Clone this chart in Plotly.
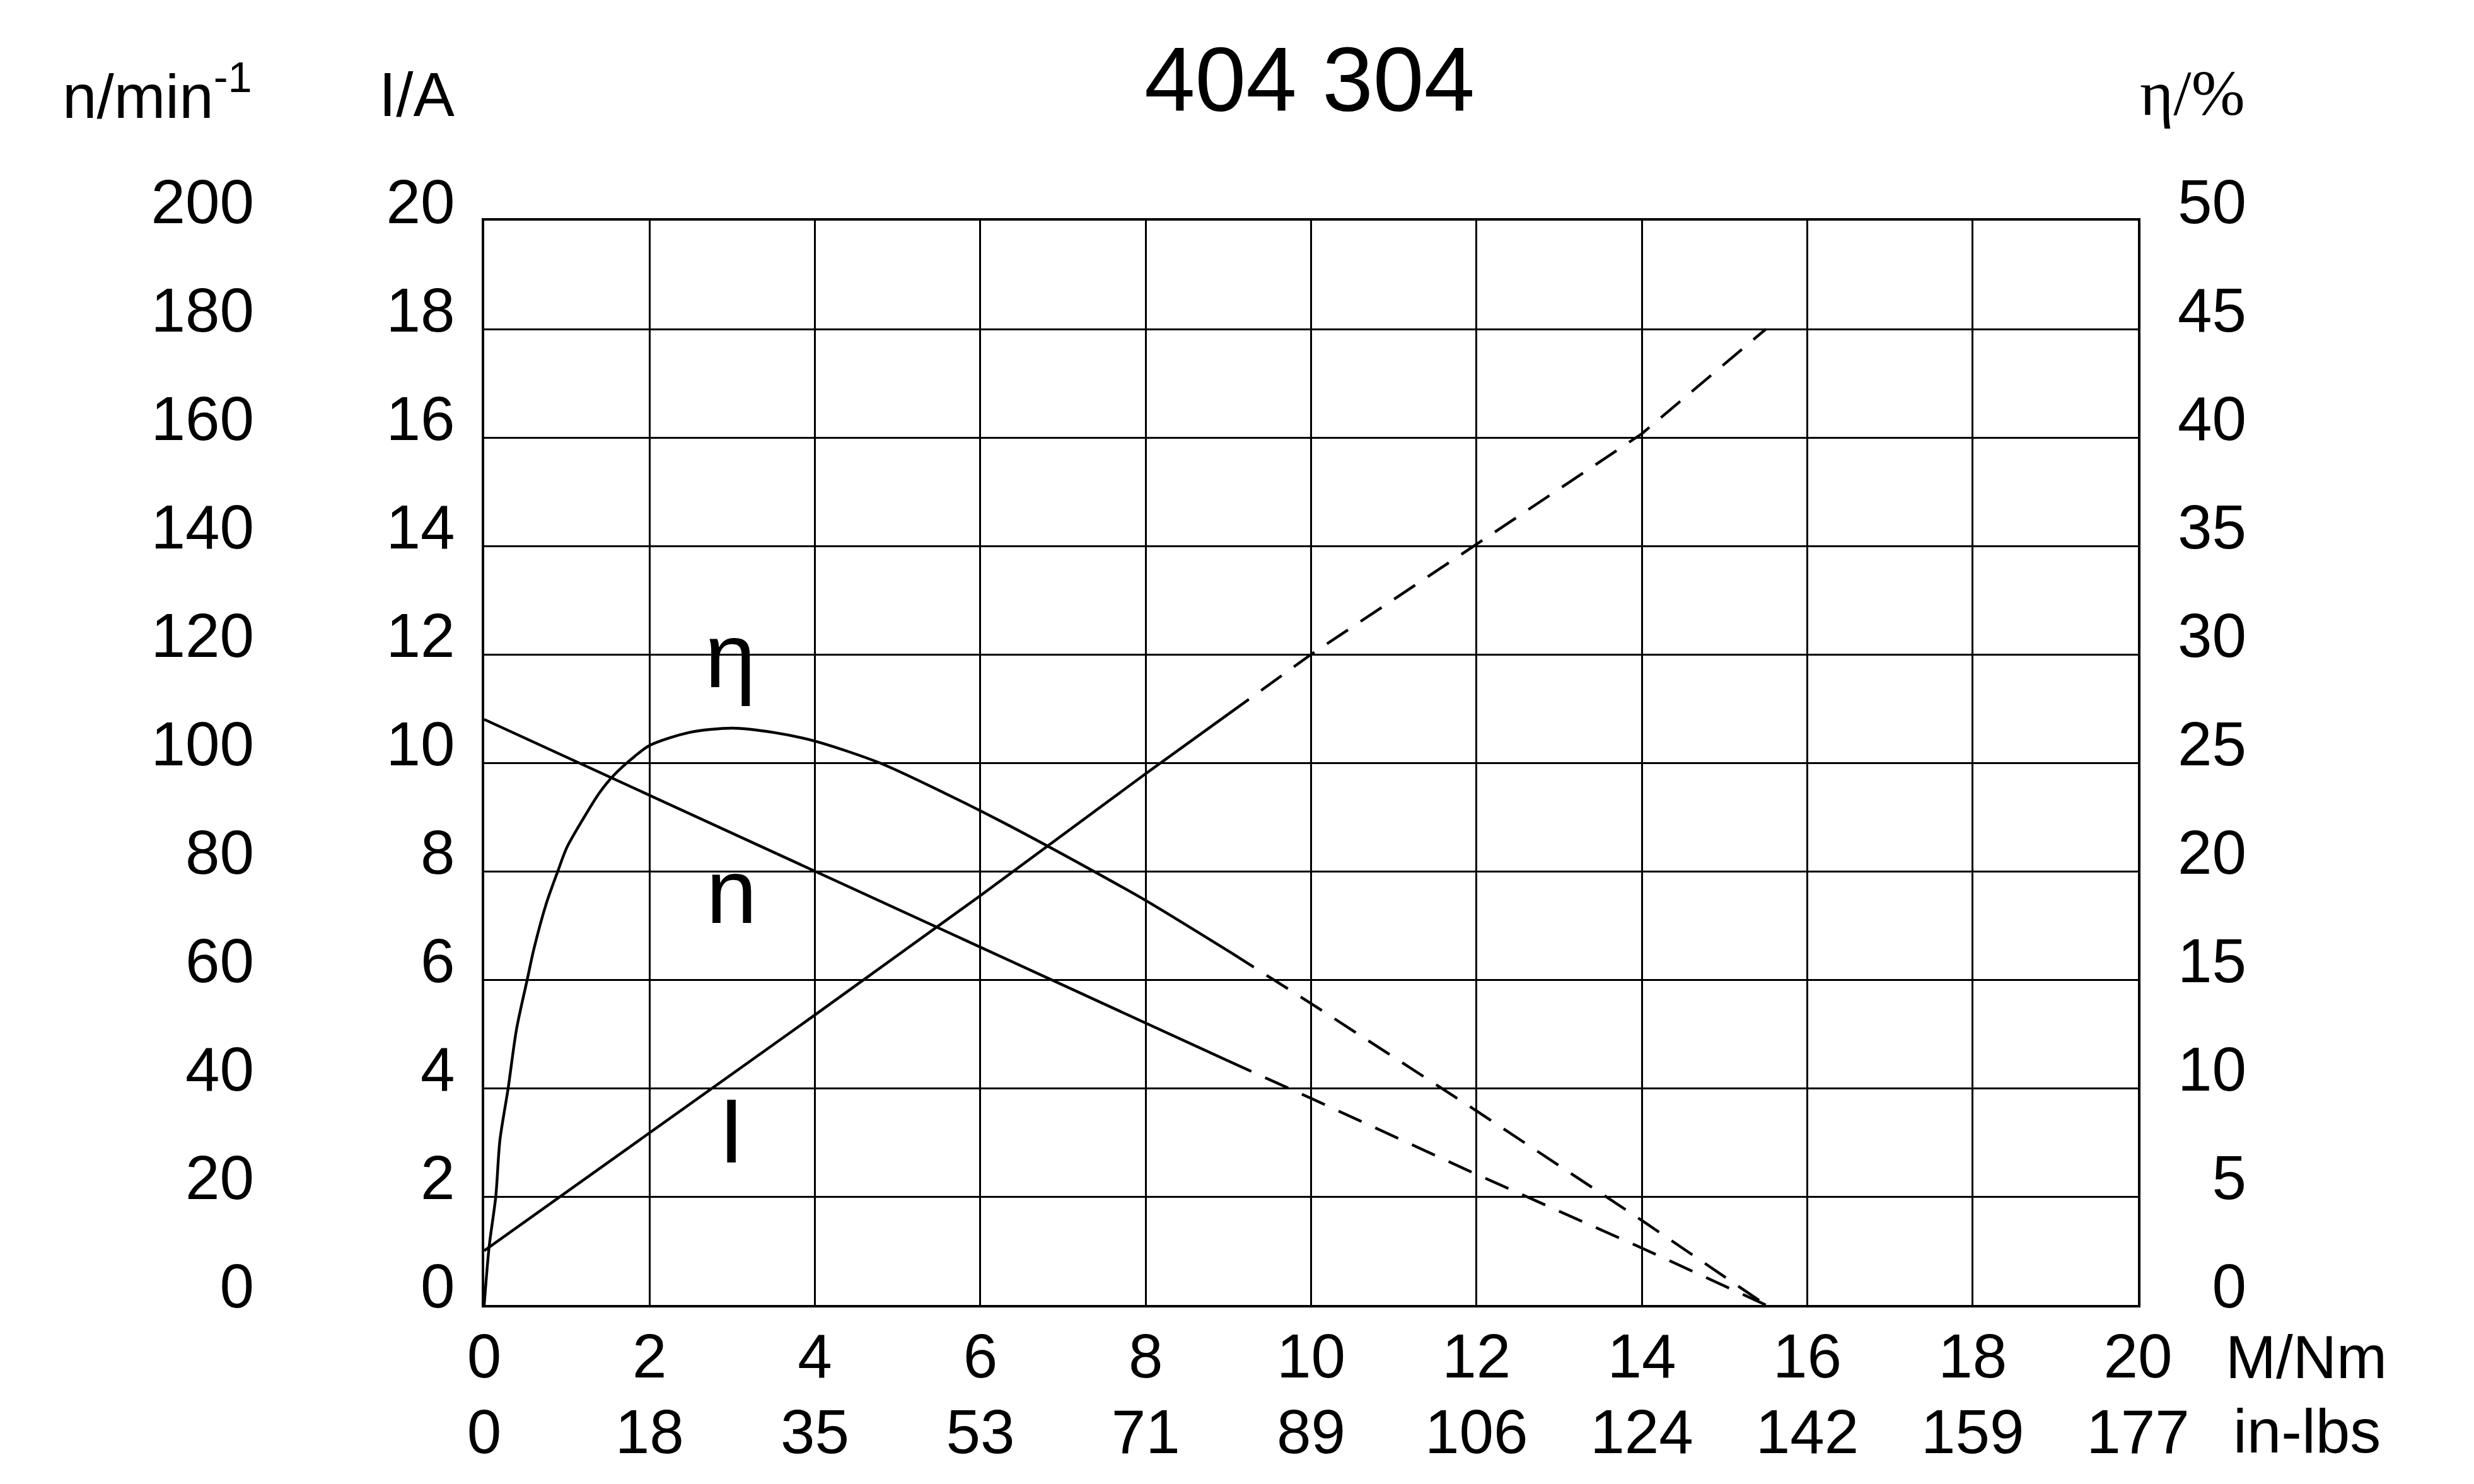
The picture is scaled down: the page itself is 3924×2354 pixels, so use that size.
import plotly.graph_objects as go

# ---- data ----
torque_ticks = [0, 2, 4, 6, 8, 10, 12, 14, 16, 18, 20]
inlbs_ticks = [0, 18, 35, 53, 71, 89, 106, 124, 142, 159, 177]
current_ticks = [0, 2, 4, 6, 8, 10, 12, 14, 16, 18, 20]
speed_ticks = [0, 20, 40, 60, 80, 100, 120, 140, 160, 180, 200]
eff_ticks = [0, 5, 10, 15, 20, 25, 30, 35, 40, 45, 50]

# speed n (rpm)
n_torque_solid = [0, 9.0]
n_speed_solid = [108, 45]
n_torque_dash = [9.0, 10, 12, 14, 15.5]
n_speed_dash = [45, 38.1, 24.1, 10.5, 0]

# current I (A)
i_torque_solid = [0, 2, 4, 6, 8, 9.0]
i_current_solid = [1.0, 3.17, 5.35, 7.55, 9.8, 10.9]
i_torque_dash = [9.0, 10, 12, 14, 15.5]
i_current_dash = [10.9, 12.0, 14.03, 16.07, 18.0]

# efficiency eta (%)
eta_torque_solid = [0, 0.06, 0.14, 0.19, 0.29, 0.39, 0.52, 0.6, 0.75, 0.89, 1.0,
                    1.21, 1.39, 1.56, 1.82, 2.0, 2.48, 3.0, 3.5, 4.0, 4.78, 5.57,
                    6.3, 7.37, 8.0, 9.05]
eta_solid = [0, 2.7, 5.0, 7.6, 10.0, 12.7, 15.0, 16.4, 18.5, 20.0, 21.1,
             22.5, 23.6, 24.4, 25.3, 25.8, 26.4, 26.6, 26.4, 26.0, 25.0, 23.6,
             22.2, 20.0, 18.65, 16.2]
eta_torque_dash = [9.05, 10, 12, 14, 15.5]
eta_dash = [16.2, 13.9, 8.95, 3.9, 0]

# ---- layout constants (page body adds an 8px offset) ----
W, H = 3924, 2354
OFF = 8
PLOT_L, PLOT_R, PLOT_T, PLOT_B = 768 - OFF, 3391 - OFF, 350 - OFF, 2070 - OFF
PAPER_BOTTOM = 2262
L, R, T, B = 0, W - PLOT_R, PLOT_T, H - PAPER_BOTTOM
paper_w = W - L - R
paper_h = H - T - B
FONT = "Liberation Sans, Arial, sans-serif"
SERIF = "Liberation Serif, Times New Roman, serif"
TICK_SIZE = 98
LW = 4.4
DASH = "40px,24px"


def px_x(x):
    return (x - OFF - L) / paper_w


def px_y(y):
    return (H - B - (y - OFF)) / paper_h


Y_DOMAIN = [(PAPER_BOTTOM - PLOT_B) / paper_h, 1]

fig = go.Figure()
line_black = dict(color="black", width=LW)
dash_black = dict(color="black", width=LW, dash=DASH)

fig.add_trace(go.Scatter(x=n_torque_solid, y=n_speed_solid, mode="lines",
                         line=line_black, yaxis="y2", showlegend=False))
fig.add_trace(go.Scatter(x=n_torque_dash, y=n_speed_dash, mode="lines",
                         line=dash_black, yaxis="y2", showlegend=False))
fig.add_trace(go.Scatter(x=i_torque_solid, y=i_current_solid, mode="lines",
                         line=line_black, yaxis="y", showlegend=False))
fig.add_trace(go.Scatter(x=i_torque_dash, y=i_current_dash, mode="lines",
                         line=dash_black, yaxis="y", showlegend=False))
fig.add_trace(go.Scatter(x=eta_torque_solid, y=eta_solid, mode="lines",
                         line=dict(color="black", width=LW, shape="spline", smoothing=0.8),
                         yaxis="y3", showlegend=False))
fig.add_trace(go.Scatter(x=eta_torque_dash, y=eta_dash, mode="lines",
                         line=dash_black, yaxis="y3", showlegend=False))

eff_ticktext = [("\u00a0\u00a0" + str(v)) if v < 10 else str(v) for v in eff_ticks]
tickfont = dict(family=FONT, size=TICK_SIZE, color="black")

fig.update_layout(
    width=W, height=H,
    margin=dict(l=L, r=R, t=T, b=B, pad=0, autoexpand=False),
    paper_bgcolor="white", plot_bgcolor="white",
    font=dict(family=FONT, size=TICK_SIZE, color="black"),
    title=dict(text="404 304", x=(2077 - OFF) / W, xref="container", xanchor="center",
               y=1 - (125 - OFF) / H, yref="container", yanchor="middle", automargin=False,
               font=dict(family=FONT, size=145, color="black")),
    xaxis=dict(domain=[(PLOT_L - L) / paper_w, 1], range=[0, 20], tickvals=torque_ticks,
               ticktext=[str(v) for v in torque_ticks],
               showgrid=True, gridcolor="black", gridwidth=2.5,
               showline=True, linecolor="black", linewidth=4, mirror=True,
               ticks="", zeroline=False, ticklabelstandoff=-7, automargin=False,
               anchor="y", tickfont=tickfont),
    xaxis2=dict(domain=[(PLOT_L - L) / paper_w, 1], range=[0, 20], tickvals=torque_ticks,
                ticktext=[str(v) for v in inlbs_ticks], overlaying="x", side="bottom",
                anchor="free", position=(PAPER_BOTTOM - 2198) / paper_h,
                showgrid=False, showline=False, ticks="", zeroline=False,
                automargin=False, ticklabelstandoff=0, tickfont=tickfont),
    yaxis=dict(domain=Y_DOMAIN, range=[0, 20], tickvals=current_ticks, showgrid=True,
               gridcolor="black", gridwidth=2.5, showline=True, linecolor="black",
               linewidth=4, mirror=True, ticks="", zeroline=False, side="left", anchor="x",
               automargin=False, ticklabelstandoff=23, ticklabelshift=-30, tickfont=tickfont),
    yaxis2=dict(domain=Y_DOMAIN, range=[0, 200], tickvals=speed_ticks, overlaying="y",
                side="left", anchor="free", position=(403 - OFF - L) / paper_w,
                showgrid=False, showline=False, ticks="", zeroline=False,
                ticklabelshift=-30, ticklabelstandoff=0, automargin=False, tickfont=tickfont),
    yaxis3=dict(domain=Y_DOMAIN, range=[0, 50], tickvals=eff_ticks, ticktext=eff_ticktext,
                overlaying="y", side="right", anchor="x", showgrid=False, showline=False,
                ticks="", zeroline=False, ticklabelshift=-30, ticklabelstandoff=62,
                automargin=False, tickfont=tickfont),
)

# invisible trace to activate the second (in-lbs) x axis
fig.add_trace(go.Scatter(x=[0, 20], y=[0, 0], xaxis="x2", yaxis="y", mode="lines",
                         line=dict(width=0), hoverinfo="skip", showlegend=False))

annotations = [
    dict(text="n/min<sup>-1</sup>", x=px_x(402), y=px_y(146), xanchor="right", yanchor="middle",
         font=dict(family=FONT, size=TICK_SIZE)),
    dict(text="I/A", x=px_x(723), y=px_y(150), xanchor="right", yanchor="middle",
         font=dict(family=FONT, size=TICK_SIZE)),
    dict(text="η/%", x=px_x(3563), y=px_y(148), xanchor="right", yanchor="middle",
         font=dict(family=SERIF, size=102)),
    dict(text="M/Nm", x=px_x(3528), y=px_y(2152), xanchor="left", yanchor="middle",
         font=dict(family=FONT, size=96)),
    dict(text="in-lbs", x=px_x(3540), y=px_y(2270), xanchor="left", yanchor="middle",
         font=dict(family=FONT, size=TICK_SIZE)),
    dict(text="η", x=px_x(1158), y=px_y(1040), xanchor="center", yanchor="middle",
         font=dict(family=FONT, size=145)),
    dict(text="n", x=px_x(1160), y=px_y(1414), xanchor="center", yanchor="middle",
         font=dict(family=FONT, size=145)),
    dict(text="I", x=px_x(1160), y=px_y(1794), xanchor="center", yanchor="middle",
         font=dict(family=FONT, size=145)),
]
for a in annotations:
    a.update(xref="paper", yref="paper", showarrow=False)
fig.update_layout(annotations=annotations)

fig.write_html("out.html")
